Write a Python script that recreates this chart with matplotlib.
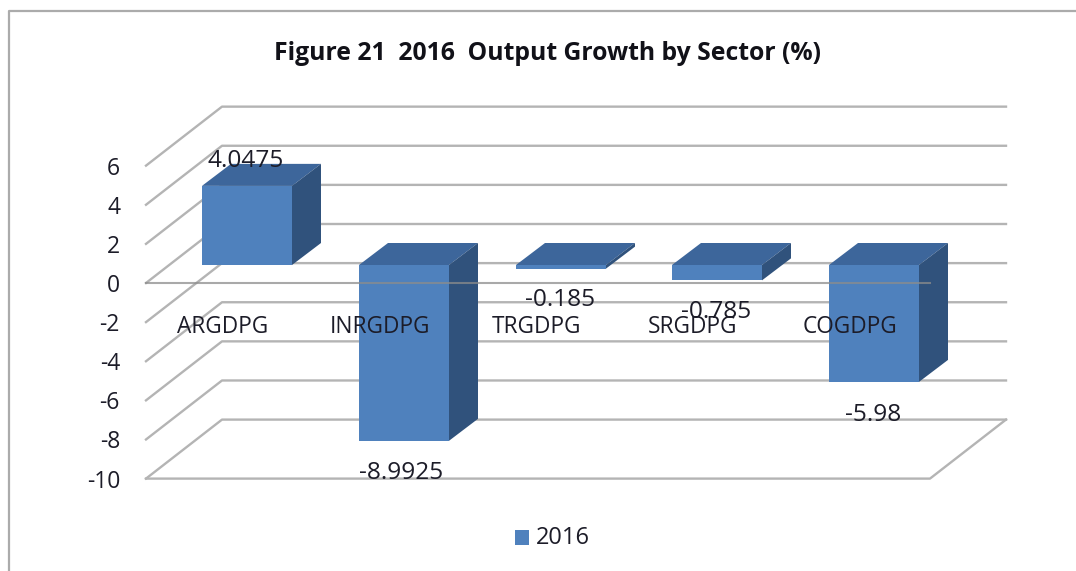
import numpy as np
import matplotlib
matplotlib.use('Agg')
import matplotlib.pyplot as plt
from matplotlib.patches import Polygon, Rectangle

categories = ['ARGDPG', 'INRGDPG', 'TRGDPG', 'SRGDPG', 'COGDPG']
values = [4.0475, -8.9925, -0.185, -0.785, -5.98]
value_labels = ['4.0475', '-8.9925', '-0.185', '-0.785', '-5.98']
yticks = [-10, -8, -6, -4, -2, 0, 2, 4, 6]
series_name = '2016'
title = 'Figure 21  2016  Output Growth by Sector (%)'

plt.rcParams['font.family'] = ['Open Sans', 'DejaVu Sans']

# pixel axes, the 3d box is sheared by hand
fig = plt.figure(figsize=(10.76, 5.71), dpi=100)
ax = fig.add_axes([0, 0, 1, 1])
ax.set_xlim(0, 1076)
ax.set_ylim(571, 0)
ax.axis('off')

front = '#4f81bd'
top = '#3d669b'
side = '#30527c'
grid = '#b4b4b4'
text_col = '#1c1c28'

# frame of the chart
ax.plot([9, 9, 1076], [571, 11, 11], color='#ababab', lw=1.6)

def ypx(v):
    return 283 - v * 19.56

dx, dy = 76, -59
x0, x1 = 146, 930

# back wall grid + side wall
for t in yticks:
    y = ypx(t)
    ax.plot([x0, x0 + dx, x1 + 76], [y, y + dy, y + dy], color=grid, lw=1.7, zorder=1)
    ax.text(120, y + 3, str(t), ha='right', va='center', fontsize=16.5, color=text_col)

# floor
ax.plot([x0, x1, x1 + dx], [ypx(-10), ypx(-10), ypx(-10) + dy], color=grid, lw=1.7, zorder=1)

centers = [247, 404, 561, 717, 874]
bar_w = 90
bar_dx, bar_dy = 29, -22
base = 265
unit = 19.55

for c, v in zip(centers, values):
    l, r = c - bar_w / 2, c + bar_w / 2
    h = v * unit
    t, b = (base - h, base) if v > 0 else (base, base - h)
    ax.add_patch(Rectangle((l, t), bar_w, b - t, fc=front, ec='none', zorder=3))
    ax.add_patch(Polygon([(l, t), (l + bar_dx, t + bar_dy), (r + bar_dx, t + bar_dy), (r, t)], fc=top, ec='none', zorder=3))
    ax.add_patch(Polygon([(r, t), (r + bar_dx, t + bar_dy), (r + bar_dx, b + bar_dy), (r, b)], fc=side, ec='none', zorder=3))

# zero line shows faintly over the bars
ax.plot([x0, x1], [283, 283], color='#8c8c8c', lw=1.5, alpha=0.75, zorder=4)

label_pos = [(246, 161), (401, 473), (560, 300), (716, 312), (873, 415)]
for (lx, ly), lab in zip(label_pos, value_labels):
    ax.text(lx, ly, lab, ha='center', va='center', fontsize=17.6, color=text_col, zorder=5)
cat_x = [223, 380, 536, 693, 850]
for cx, name in zip(cat_x, categories):
    ax.text(cx, 327, name, ha='center', va='center', fontsize=16.3, color=text_col, zorder=5)

ax.text(547, 53.5, title, ha='center', va='center', fontsize=17.8, fontweight='bold', color='#111118')

ax.add_patch(Rectangle((515, 530), 14, 15, fc=front, ec='none'))
ax.text(536, 538, series_name, ha='left', va='center', fontsize=17, color=text_col)

fig.savefig('out.png', dpi=100)
